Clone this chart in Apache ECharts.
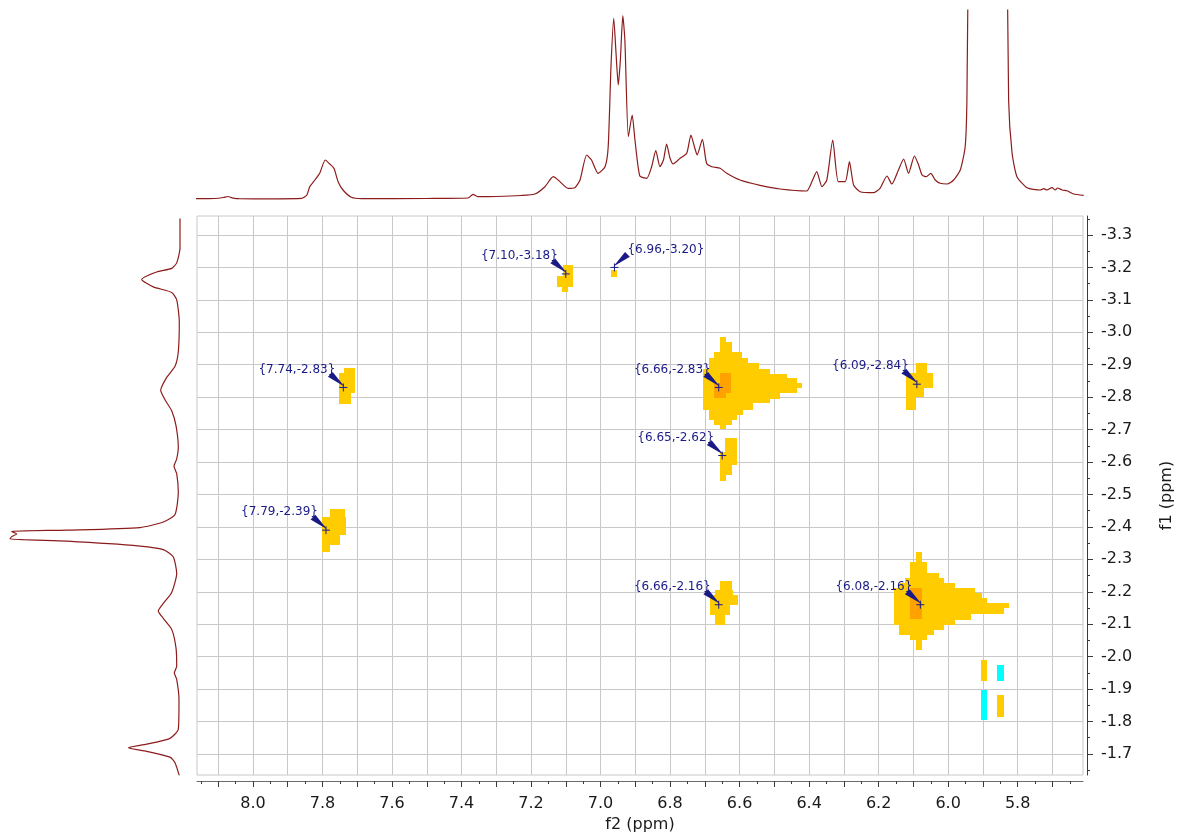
<!DOCTYPE html>
<html>
<head>
<meta charset="utf-8">
<script src="https://cdn.jsdelivr.net/npm/echarts@6/dist/echarts.min.js"></script>
<style>
html, body { margin: 0; padding: 0; background: #ffffff; }
#chart { width: 1179px; height: 834px; }
</style>
</head>
<body>
<div id="chart"></div>
<script>
// Chemical-shift windows (ppm): f2 = direct dimension, f1 = indirect dimension
const f2Range = [5.612, 8.161];
const f1Range = [-3.3586, -1.635];

// Tick values
const f2Ticks = [8.1, 8.0, 7.9, 7.8, 7.7, 7.6, 7.5, 7.4, 7.3, 7.2, 7.1, 7.0, 6.9, 6.8, 6.7, 6.6, 6.5, 6.4, 6.3, 6.2, 6.1, 6.0, 5.9, 5.8, 5.7];
const f2Labels = [8.0, 7.8, 7.6, 7.4, 7.2, 7.0, 6.8, 6.6, 6.4, 6.2, 6.0, 5.8];
const f2MinorTicks = [8.15, 8.05, 7.95, 7.85, 7.75, 7.65, 7.55, 7.45, 7.35, 7.25, 7.15, 7.05, 6.95, 6.85, 6.75, 6.65, 6.55, 6.45, 6.35, 6.25, 6.15, 6.05, 5.95, 5.85, 5.75, 5.65];
const f1Ticks = [-3.3, -3.2, -3.1, -3.0, -2.9, -2.8, -2.7, -2.6, -2.5, -2.4, -2.3, -2.2, -2.1, -2.0, -1.9, -1.8, -1.7];
const f1MinorTicks = [-3.35, -3.25, -3.15, -3.05, -2.95, -2.85, -2.75, -2.65, -2.55, -2.45, -2.35, -2.25, -2.15, -2.05, -1.95, -1.85, -1.75, -1.65];

// 1D projection along f2: [ppm, intensity]
const topSpectrum = [
  [8.168,0.3],[8.110,0.5],[8.085,1.5],[8.072,2.5],[8.060,1.2],[8.040,0.3],[7.950,0.2],[7.860,0.6],
  [7.845,4],[7.837,12],[7.822,19],[7.808,25.7],[7.792,39],[7.779,35],[7.767,30.7],[7.755,17.3],
  [7.741,9],[7.717,1.7],[7.688,0.3],[7.500,0.5],[7.381,1],[7.367,4.7],[7.352,2.3],[7.300,2.5],
  [7.230,3.5],[7.189,5],[7.160,12.3],[7.136,22.3],[7.122,19],[7.093,10.7],[7.074,11.3],[7.059,19],
  [7.040,44],[7.026,39],[7.007,25.7],[6.987,32.3],[6.978,52.3],[6.970,132.3],[6.962,180.7],[6.956,149],
  [6.949,114],[6.943,139],[6.936,183.3],[6.930,159],[6.920,62.3],[6.909,84],[6.901,59],[6.887,23],
  [6.867,20.7],[6.853,32.3],[6.841,48.3],[6.829,32.3],[6.819,39],[6.810,55],[6.800,40.7],[6.791,35],
  [6.771,40.7],[6.752,45.7],[6.740,64],[6.730,52.3],[6.722,44],[6.707,59.7],[6.695,35.7],[6.680,32.3],
  [6.656,30.7],[6.637,25.7],[6.599,19],[6.541,13.7],[6.483,10],[6.407,8],[6.392,17.3],[6.378,27.3],
  [6.363,12.3],[6.349,19],[6.332,59],[6.316,17.3],[6.296,17.3],[6.284,37.3],[6.272,14],[6.253,7.3],
  [6.215,6.3],[6.196,10.7],[6.176,23],[6.162,15],[6.143,29],[6.128,40],[6.114,25.7],[6.097,43],
  [6.085,34],[6.075,24],[6.063,22.3],[6.050,25.7],[6.037,19],[6.023,15.7],[6.003,15],[5.984,19],
  [5.965,29],[5.951,52.3],[5.946,99],[5.941,300],[5.887,3000],[5.831,300],[5.826,99],[5.816,45.7],
  [5.802,22.3],[5.773,11.3],[5.735,9],[5.725,10.3],[5.716,9],[5.701,11.3],[5.692,9],[5.685,11],
  [5.672,9],[5.658,8.3],[5.639,5],[5.610,3.7]
];

// 1D projection along f1: [intensity, ppm]
const leftSpectrum = [
  [0,-3.351],[0,-3.260],[3.3,-3.214],[8.3,-3.197],[23.3,-3.186],[38.3,-3.163],[26.7,-3.140],[8.3,-3.123],
  [3.3,-3.100],[0.7,-3.032],[1.7,-2.940],[5,-2.895],[13.3,-2.861],[19.3,-2.821],[15,-2.792],[8.3,-2.758],
  [4,-2.712],[1.7,-2.644],[3.3,-2.610],[6,-2.587],[3.3,-2.564],[1.7,-2.507],[5,-2.438],[16.7,-2.415],
  [40,-2.398],[113,-2.390],[168.3,-2.386],[163.3,-2.378],[168.3,-2.370],[170,-2.363],[113,-2.356],[40,-2.341],
  [16.7,-2.330],[6.7,-2.307],[3.3,-2.256],[8.3,-2.198],[16.7,-2.164],[21.7,-2.141],[16.7,-2.118],[8.3,-2.084],
  [4,-2.027],[3.3,-1.970],[5.7,-1.950],[3.3,-1.930],[1,-1.867],[1.7,-1.776],[10,-1.748],[33.3,-1.730],
  [51.7,-1.719],[33.3,-1.708],[10,-1.690],[5,-1.673],[0.7,-1.633]
];

// Contour cells: [f2 left, f2 right, f1 top, f1 bottom, level]  (level 0 = low, 1 = high, 2 = negative)
const contourCells = [
  // 7.10 / -3.18
  [7.1091,7.0786,-3.2075,-3.1406,0],[7.1264,7.1091,-3.1745,-3.1406,0],[7.1120,7.0947,-3.1406,-3.1252,0],
  // 6.96 / -3.20
  [6.9700,6.9536,-3.1921,-3.1715,0],
  // 7.74 / -2.83
  [7.7388,7.7052,-2.8909,-2.8120,0],[7.7532,7.7388,-2.8737,-2.7781,0],[7.7388,7.7187,-2.8120,-2.7781,0],
  // 6.66 / -2.83
  [6.6562,6.6398,-2.9865,-2.9692,0],[6.6562,6.6225,-2.9692,-2.9403,0],[6.6735,6.5920,-2.9403,-2.9199,0],
  [6.6870,6.5747,-2.9199,-2.9045,0],[6.6870,6.5439,-2.9045,-2.8869,0],[6.7043,6.5122,-2.8869,-2.8715,0],
  [6.7043,6.4641,-2.8715,-2.8583,0],[6.7043,6.4353,-2.8583,-2.8428,0],[6.7043,6.4209,-2.8428,-2.8274,0],
  [6.7043,6.4353,-2.8274,-2.8120,0],[6.7043,6.4834,-2.8120,-2.7944,0],[6.7043,6.5122,-2.7944,-2.7812,0],
  [6.7043,6.5621,-2.7812,-2.7605,0],[6.6870,6.5891,-2.7605,-2.7451,0],[6.6870,6.6081,-2.7451,-2.7297,0],
  [6.6735,6.6225,-2.7297,-2.7143,0],[6.6562,6.6398,-2.7143,-2.7010,0],
  [6.6562,6.6254,-2.8737,-2.8120,1],[6.6735,6.6398,-2.8428,-2.7966,1],
  // 6.09 / -2.84
  [6.0919,6.0611,-2.9045,-2.8737,0],[6.1207,6.0438,-2.8737,-2.8274,0],[6.1207,6.0708,-2.8274,-2.8015,0],
  [6.1207,6.0919,-2.8015,-2.7605,0],
  // 6.65 / -2.62
  [6.6418,6.6081,-2.6733,-2.6320,0],[6.6562,6.6081,-2.6320,-2.5910,0],[6.6562,6.6225,-2.5910,-2.5602,0],
  [6.6562,6.6389,-2.5602,-2.5417,0],
  // 7.79 / -2.39
  [7.7792,7.7360,-2.4554,-2.4307,0],[7.8022,7.7331,-2.4307,-2.3752,0],[7.8022,7.7504,-2.3752,-2.3444,0],
  [7.8022,7.7792,-2.3444,-2.3228,0],
  // 6.66 / -2.16
  [6.6562,6.6217,-2.2334,-2.2057,0],[6.6706,6.6188,-2.2057,-2.1902,0],[6.6850,6.6044,-2.1902,-2.1594,0],
  [6.6850,6.6274,-2.1594,-2.1286,0],[6.6706,6.6418,-2.1286,-2.0978,0],
  // 6.08 / -2.16
  [6.0919,6.0755,-2.3237,-2.2929,0],[6.1092,6.0611,-2.2929,-2.2571,0],[6.1092,6.0276,-2.2571,-2.2417,0],
  [6.1236,6.0133,-2.2417,-2.2263,0],[6.1380,5.9796,-2.2263,-2.2109,0],[6.1553,5.9220,-2.2109,-2.1955,0],
  [6.1553,5.9027,-2.1955,-2.1801,0],[6.1553,5.8883,-2.1801,-2.1647,0],[6.1553,5.8241,-2.1647,-2.1492,0],
  [6.1553,5.8385,-2.1492,-2.1317,0],[6.1553,5.9344,-2.1317,-2.1132,0],[6.1553,5.9796,-2.1132,-2.0978,0],
  [6.1400,6.0133,-2.0978,-2.0824,0],[6.1400,6.0421,-2.0824,-2.0670,0],[6.1092,6.0611,-2.0670,-2.0515,0],
  [6.0919,6.0755,-2.0515,-2.0207,0],
  [6.1092,6.0755,-2.2109,-2.1163,1],
  // small signals near 5.9 / -1.9
  [5.9047,5.8883,-1.9899,-1.9261,0],[5.8595,5.8385,-1.9745,-1.9261,2],
  [5.9047,5.8883,-1.8967,-1.8042,2],[5.8595,5.8385,-1.8813,-1.8144,0]
];

// Picked cross peaks: [f2, f1, label side (0 = left, 1 = right)]
const peaks = [
  [7.10,-3.18,0],[6.96,-3.20,1],[7.74,-2.83,0],[6.66,-2.83,0],[6.09,-2.84,0],
  [6.65,-2.62,0],[7.79,-2.39,0],[6.66,-2.16,0],[6.08,-2.16,0]
];

const levelColors = ['#ffcc00', '#ffa200', '#00ffff'];
const peakColor = '#1a1a86';
const gridColor = '#c8c8c8';
const specColor = '#8c1c1c';
const axisFont = 'DejaVu Sans';

const chart = echarts.init(document.getElementById('chart'), null, { renderer: 'canvas' });

const fmt1 = v => v.toFixed(1);

chart.setOption({
  animation: false,
  backgroundColor: '#ffffff',
  grid: [
    { left: 197, top: 216, width: 886, height: 559, containLabel: false, outerBoundsMode: 'none',
      show: true, borderColor: gridColor, borderWidth: 1, backgroundColor: 'transparent' },
    { left: 197, top: 10, width: 886, height: 195, containLabel: false, outerBoundsMode: 'none' },
    { left: 0, top: 216, width: 197, height: 559, containLabel: false, outerBoundsMode: 'none' }
  ],
  xAxis: [
    {
      gridIndex: 0, type: 'value', inverse: true, min: f2Range[0], max: f2Range[1],
      position: 'bottom', offset: 6,
      name: 'f2 (ppm)', nameLocation: 'middle', nameGap: 34,
      nameTextStyle: { fontFamily: axisFont, fontSize: 16, color: '#1a1a1a' },
      axisLine: { show: true, onZero: false, lineStyle: { color: '#6a6a6a', width: 1 } },
      axisTick: { show: true, length: 6, customValues: f2Ticks, lineStyle: { color: '#3a3a3a' } },
      axisLabel: { show: true, customValues: f2Labels, formatter: fmt1, margin: 15, fontFamily: axisFont, fontSize: 16, color: '#1a1a1a' },
      splitLine: { show: true, lineStyle: { color: gridColor, width: 1 } },
      minorTick: { show: false }
    },
    {
      gridIndex: 0, type: 'value', inverse: true, min: f2Range[0], max: f2Range[1],
      position: 'bottom', offset: 6,
      axisLine: { show: false, onZero: false },
      axisTick: { show: true, length: 3, customValues: f2MinorTicks, lineStyle: { color: '#3a3a3a' } },
      axisLabel: { show: false },
      splitLine: { show: false }
    },
    { gridIndex: 1, type: 'value', inverse: true, min: f2Range[0], max: f2Range[1], show: false },
    { gridIndex: 2, type: 'value', inverse: true, min: -17, max: 180, show: false }
  ],
  yAxis: [
    {
      gridIndex: 0, type: 'value', inverse: true, min: f1Range[0], max: f1Range[1],
      position: 'right', offset: 4,
      name: 'f1 (ppm)', nameLocation: 'middle', nameGap: 72, nameRotate: 90,
      nameTextStyle: { fontFamily: axisFont, fontSize: 16, color: '#1a1a1a' },
      axisLine: { show: true, onZero: false, lineStyle: { color: '#3a3a3a', width: 1 } },
      axisTick: { show: true, length: 6, customValues: f1Ticks, lineStyle: { color: '#3a3a3a' } },
      axisLabel: { show: true, customValues: f1Ticks, formatter: fmt1, margin: 14, fontFamily: axisFont, fontSize: 16, color: '#1a1a1a' },
      splitLine: { show: true, lineStyle: { color: gridColor, width: 1 } },
      minorTick: { show: false }
    },
    {
      gridIndex: 0, type: 'value', inverse: true, min: f1Range[0], max: f1Range[1],
      position: 'right', offset: 4,
      axisLine: { show: false, onZero: false },
      axisTick: { show: true, length: 3, customValues: f1MinorTicks, lineStyle: { color: '#3a3a3a' } },
      axisLabel: { show: false },
      splitLine: { show: false }
    },
    { gridIndex: 1, type: 'value', min: -6, max: 189, show: false },
    { gridIndex: 2, type: 'value', inverse: true, min: f1Range[0], max: f1Range[1], show: false }
  ],
  series: [
    {
      name: 'f2 projection', type: 'line', xAxisIndex: 2, yAxisIndex: 2,
      data: topSpectrum, showSymbol: false, smooth: 0.2, clip: true,
      lineStyle: { color: specColor, width: 1.2 }
    },
    {
      name: 'f1 projection', type: 'line', xAxisIndex: 3, yAxisIndex: 3,
      data: leftSpectrum, showSymbol: false, smooth: 0.2, clip: true,
      lineStyle: { color: specColor, width: 1.2 }
    },
    {
      name: 'contours', type: 'custom', xAxisIndex: 0, yAxisIndex: 0, z: 3,
      data: contourCells,
      renderItem: function (params, api) {
        const a = api.coord([api.value(0), api.value(2)]);
        const b = api.coord([api.value(1), api.value(3)]);
        // snap cell edges to whole pixels so neighbouring cells meet without seams
        const x0 = Math.round(Math.min(a[0], b[0])), x1 = Math.round(Math.max(a[0], b[0]));
        const y0 = Math.round(Math.min(a[1], b[1])), y1 = Math.round(Math.max(a[1], b[1]));
        return {
          type: 'rect',
          shape: { x: x0, y: y0, width: x1 - x0, height: y1 - y0 },
          style: { fill: levelColors[api.value(4)] }
        };
      }
    },
    {
      name: 'peaks', type: 'custom', xAxisIndex: 0, yAxisIndex: 0, z: 5,
      data: peaks,
      renderItem: function (params, api) {
        const f2 = api.value(0), f1 = api.value(1);
        const p = api.coord([f2, f1]);
        const right = api.value(2) === 1;
        const s = right ? 1 : -1;
        const text = '{' + f2.toFixed(2) + ',' + f1.toFixed(2) + '}';
        const bx = p[0] + s * 13, by = p[1] - 13;
        return {
          type: 'group',
          children: [
            {
              type: 'text',
              x: right ? p[0] + 13 : p[0] - 8,
              y: p[1] - 18,
              style: {
                text: text, fill: peakColor, font: '12px "DejaVu Sans"',
                align: right ? 'left' : 'right', verticalAlign: 'middle',
                textAlign: right ? 'left' : 'right', textVerticalAlign: 'middle'
              }
            },
            {
              type: 'polygon',
              shape: { points: [[bx - 2.4 * s, by - 2.4], [bx + 2.4 * s, by + 2.4], [p[0] - s, p[1] - 1]] },
              style: { fill: peakColor }
            },
            { type: 'line', shape: { x1: p[0] - 4, y1: p[1], x2: p[0] + 4, y2: p[1] }, style: { stroke: peakColor, lineWidth: 1 } },
            { type: 'line', shape: { x1: p[0], y1: p[1] - 4, x2: p[0], y2: p[1] + 4 }, style: { stroke: peakColor, lineWidth: 1 } }
          ]
        };
      }
    }
  ]
});
</script>
</body>
</html>
